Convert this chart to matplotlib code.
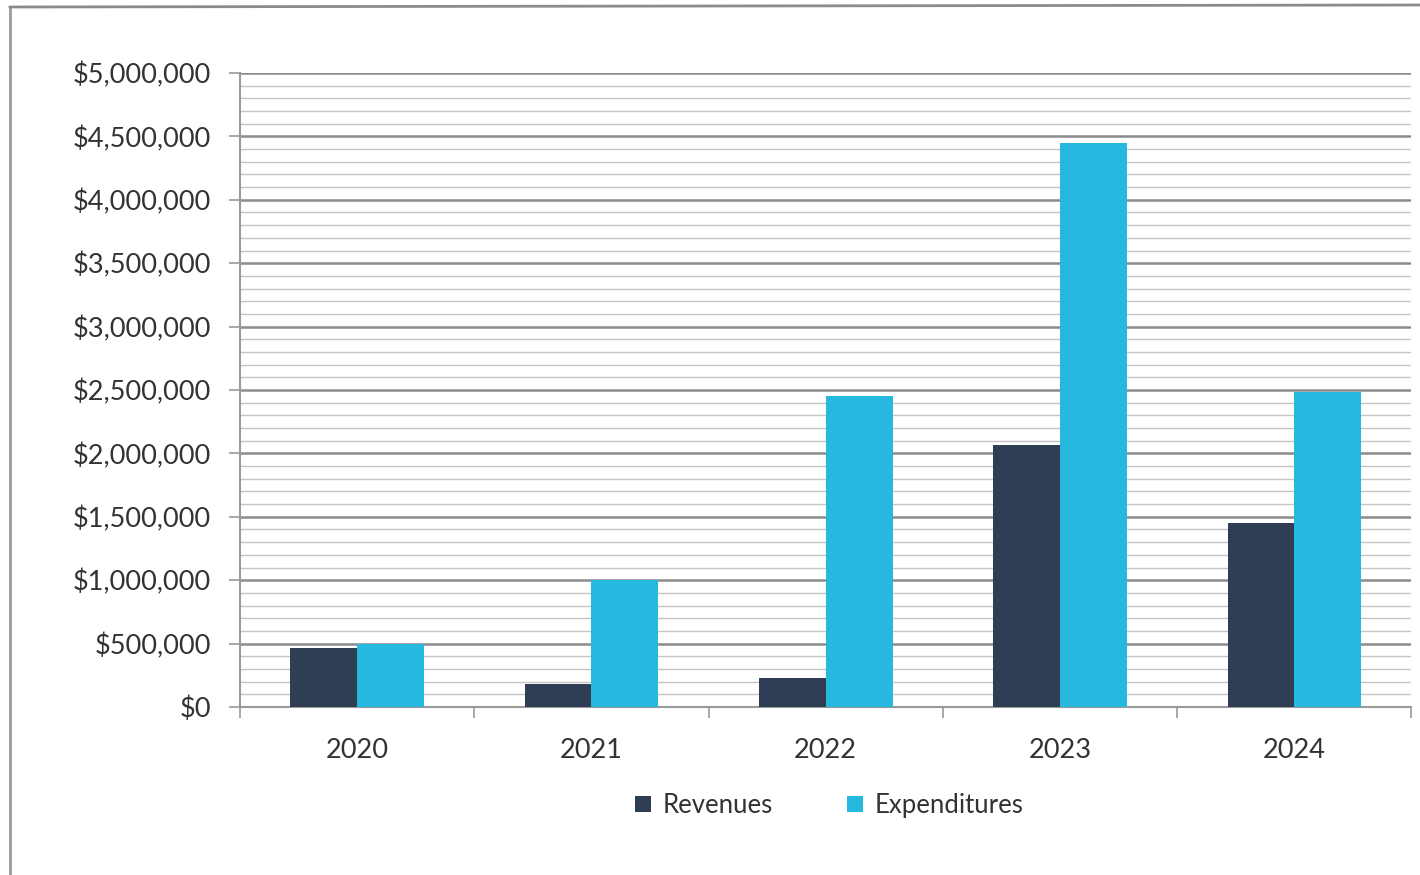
import matplotlib
matplotlib.use("Agg")
import matplotlib.pyplot as plt
import numpy as np
from matplotlib.ticker import FuncFormatter, MultipleLocator, FixedLocator
from matplotlib.lines import Line2D
from matplotlib.patches import Patch

plt.rcParams['font.family'] = ['Lato', 'DejaVu Sans']

years = ["2020", "2021", "2022", "2023", "2024"]
revenues = [465000, 180000, 230000, 2065000, 1450000]
expenditures = [500000, 1000000, 2450000, 4450000, 2485000]

rev_color = "#2f3e55"
exp_color = "#27b8e0"
text_color = "#333333"

fig = plt.figure(figsize=(14.2, 8.75), dpi=100)
ax = fig.add_axes([0.169, 0.192, 0.825, 0.7246])

x = np.arange(len(years))
w = 0.285
ax.bar(x - w / 2, revenues, width=w, color=rev_color, zorder=3, label="Revenues")
ax.bar(x + w / 2, expenditures, width=w, color=exp_color, zorder=3, label="Expenditures")

ax.set_xlim(-0.5, len(years) - 0.5)
ax.set_ylim(0, 5000000)

ax.yaxis.set_major_locator(MultipleLocator(500000))
ax.yaxis.set_minor_locator(MultipleLocator(100000))
ax.yaxis.set_major_formatter(FuncFormatter(lambda v, p: "${:,.0f}".format(v)))
ax.grid(axis="y", which="major", color="#8c8c8c", linewidth=1.8, zorder=1)
ax.grid(axis="y", which="minor", color="#c4c4c4", linewidth=1.0, zorder=1)

ax.set_xticks(x)
ax.set_xticklabels(years)
ax.xaxis.set_minor_locator(FixedLocator(np.arange(-0.5, len(years), 1.0)))

ax.tick_params(axis="x", which="major", length=0, pad=22, labelsize=19.5, labelcolor=text_color)
ax.tick_params(axis="x", which="minor", length=8, width=1.2, color="#999999", direction="out")
ax.tick_params(axis="y", which="major", length=8, width=1.2, color="#999999", pad=13,
               labelsize=19.5, labelcolor=text_color)
ax.tick_params(axis="y", which="minor", length=0)

for side in ("top", "right"):
    ax.spines[side].set_visible(False)
for side in ("left", "bottom"):
    ax.spines[side].set_color("#9a9a9a")
    ax.spines[side].set_linewidth(1.5)

handles = [Patch(facecolor=rev_color, label="Revenues"),
           Patch(facecolor=exp_color, label="Expenditures")]
fig.legend(handles=handles, loc="center", bbox_to_anchor=(0.584, 0.0795), ncol=2,
           frameon=False, fontsize=18.5, handlelength=0.6, handleheight=0.6,
           handletextpad=0.45, columnspacing=2.9, labelcolor=text_color)

# outer chart frame
fig.add_artist(Line2D([10 / 1420, 10 / 1420], [0, 1 - 8 / 875], color="#9a9a9a", linewidth=2,
                      transform=fig.transFigure))
fig.add_artist(Line2D([10 / 1420, 1], [1 - 7 / 875, 1 - 5 / 875], color="#8a8a8a", linewidth=2,
                      transform=fig.transFigure))

fig.savefig("out.png", dpi=100, facecolor="white")
